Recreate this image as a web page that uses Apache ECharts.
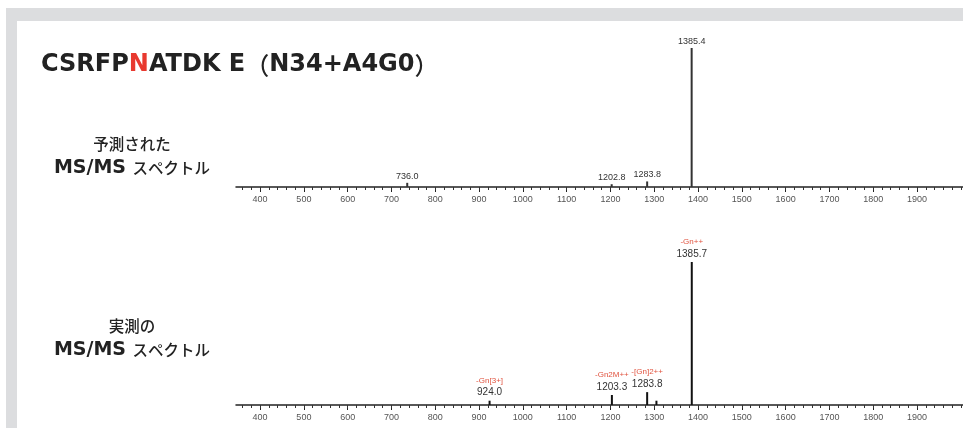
<!DOCTYPE html>
<html lang="ja">
<head>
    <meta charset="UTF-8">
    <title>CSRFPNATDK E</title>
    <script src="https://cdn.jsdelivr.net/npm/echarts@6/dist/echarts.min.js"></script>
    <style>
        html, body { margin: 0; padding: 0; background: #fff; }
        #chart { width: 963px; height: 428px; }
    </style>
</head>
<body>
<div id="chart"></div>
<script>
    // 予測スペクトル
    var predMz = [736.0, 1202.8, 1283.8, 1385.4];
    var predInt = [3, 2, 4, 100];
    // 実測スペクトル
    var measMz = [924.0, 1203.3, 1283.8, 1305.0, 1385.7];
    var measInt = [3, 7, 9, 3, 100];
    var measTag = ['-Gn[3+]', '-Gn2M++', '-[Gn]2++', '', '-Gn++'];

    var tickLabels = [400, 500, 600, 700, 800, 900, 1000, 1100, 1200, 1300, 1400, 1500, 1600, 1700, 1800, 1900];
    var minorTicks = [];
    for (var t = 360; t <= 2000; t += 20) minorTicks.push(t);

    var X_MIN = 345, X_MAX = 2005;
    var tickFont = "'Liberation Sans Narrow', 'Liberation Sans', sans-serif";
    var latin = "'DejaVu Sans', 'Noto Sans CJK JP'";
    var jp = "'Noto Sans CJK JP'";

    var myChart = echarts.init(document.getElementById('chart'));

    function mainAxis(gi) {
        return {
            type: 'value', gridIndex: gi, min: X_MIN, max: X_MAX,
            axisLine: { lineStyle: { color: '#222', width: 1.5 } },
            axisTick: { customValues: tickLabels, length: 5, lineStyle: { color: '#222' } },
            axisLabel: {
                customValues: tickLabels, fontSize: 9, color: '#555', fontFamily: tickFont, margin: 8,
                formatter: function (v) { return String(v); }
            },
            splitLine: { show: false }
        };
    }
    function minorAxis(gi) {
        return {
            type: 'value', gridIndex: gi, min: X_MIN, max: X_MAX, position: 'bottom',
            axisLine: { show: false },
            axisTick: { customValues: minorTicks, length: 3, lineStyle: { color: '#333' } },
            axisLabel: { show: false },
            splitLine: { show: false }
        };
    }

    var predData = predMz.map(function (m, i) {
        return { value: [m, predInt[i]], label: { show: true, formatter: m.toFixed(1) } };
    });
    var measData = measMz.map(function (m, i) {
        var shown = measTag[i] !== '';
        return {
            value: [m, measInt[i]],
            label: { show: shown, formatter: '{r|' + measTag[i] + '}\n{b|' + m.toFixed(1) + '}' }
        };
    });

    var sideRich = {
        j: { fontSize: 15.5, fontWeight: 500, color: '#222', fontFamily: jp, lineHeight: 24 },
        m: { fontSize: 19, fontWeight: 'bold', color: '#222', fontFamily: latin, lineHeight: 24 }
    };

    var option = {
        animation: false,
        graphic: [
            { type: 'rect', shape: { x: 6, y: 8, width: 957, height: 13 }, style: { fill: '#dcdddf' } },
            { type: 'rect', shape: { x: 6, y: 8, width: 11, height: 420 }, style: { fill: '#dcdddf' } }
        ],
        title: [
            {
                left: 36, top: 47,
                text: '{a|CSRFP}{n|N}{a|ATDK E}{p|（}{a|N34+A4G0}{p|）}',
                textStyle: {
                    rich: {
                        a: { fontSize: 24, fontWeight: 'bold', color: '#222', fontFamily: latin, lineHeight: 26 },
                        n: { fontSize: 24, fontWeight: 'bold', color: '#e8392f', fontFamily: latin, lineHeight: 26 },
                        p: { fontSize: 24, fontWeight: 500, color: '#222', fontFamily: jp, lineHeight: 26 }
                    }
                }
            },
            {
                left: 127, top: 127, textAlign: 'center',
                text: '{j|予測された}\n{m|MS/MS }{j|スペクトル}',
                textStyle: { lineHeight: 24, rich: sideRich }
            },
            {
                left: 127, top: 309, textAlign: 'center',
                text: '{j|実測の}\n{m|MS/MS }{j|スペクトル}',
                textStyle: { lineHeight: 24, rich: sideRich }
            }
        ],
        grid: [
            { left: 236, right: 0, top: 48, bottom: 241 },
            { left: 236, right: 0, top: 262, bottom: 23 }
        ],
        xAxis: [mainAxis(0), minorAxis(0), mainAxis(1), minorAxis(1)],
        yAxis: [
            { type: 'value', gridIndex: 0, min: 0, max: 100, show: false },
            { type: 'value', gridIndex: 1, min: 0, max: 100, show: false }
        ],
        series: [
            {
                name: '予測', type: 'bar', xAxisIndex: 0, yAxisIndex: 0,
                barWidth: 2, itemStyle: { color: '#333' },
                label: { position: 'top', distance: 2, fontSize: 9, color: '#333', fontFamily: tickFont },
                data: predData
            },
            {
                name: '実測', type: 'bar', xAxisIndex: 2, yAxisIndex: 1,
                barWidth: 2, itemStyle: { color: '#111' },
                label: {
                    position: 'top', distance: 2,
                    rich: {
                        r: { fontSize: 8, color: '#e0533f', fontFamily: tickFont, lineHeight: 12 },
                        b: { fontSize: 10, color: '#333', fontFamily: tickFont, lineHeight: 12 }
                    }
                },
                data: measData
            }
        ]
    };
    myChart.setOption(option);
</script>
</body>
</html>
